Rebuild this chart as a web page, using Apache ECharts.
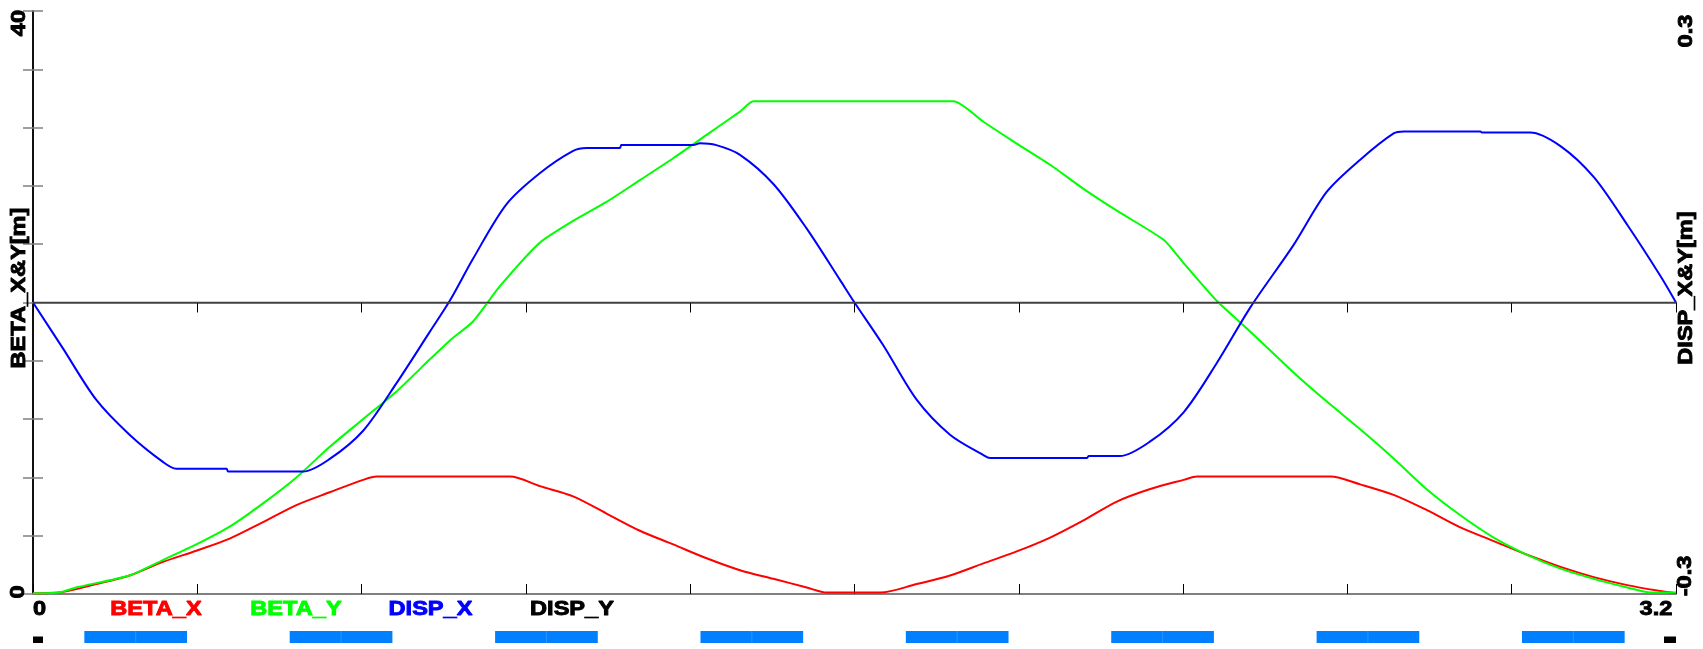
<!DOCTYPE html>
<html><head><meta charset="utf-8">
<script src="https://cdn.jsdelivr.net/npm/echarts@6/dist/echarts.min.js"></script>
<style>html,body{margin:0;padding:0;background:#fff;}#c{width:1703px;height:649px;}</style>
</head><body><div id="c"></div>
<script>
// ---- data ----
const betaXS = [0, 0.05, 0.123, 0.188, 0.253, 0.318, 0.383, 0.448, 0.513, 0.578, 0.643, 0.669, 0.929, 0.987, 1.052, 1.117, 1.182, 1.247, 1.312, 1.377, 1.442, 1.507, 1.546, 1.650, 1.721, 1.786, 1.851, 1.916, 1.981, 2.046, 2.111, 2.176, 2.241, 2.267, 2.527, 2.585, 2.650, 2.715, 2.780, 2.845, 2.910, 2.975, 3.040, 3.105, 3.170, 3.2];
const betaXV = [0.05, 0.1, 0.68, 1.27, 2.2, 2.97, 3.8, 4.93, 6.1, 6.98, 7.83, 8.06, 8.06, 7.4, 6.7, 5.52, 4.34, 3.4, 2.45, 1.63, 1.04, 0.45, 0.1, 0.1, 0.68, 1.27, 2.1, 2.92, 3.87, 5.05, 6.34, 7.2, 7.83, 8.06, 8.06, 7.52, 6.8, 5.75, 4.57, 3.63, 2.69, 1.86, 1.16, 0.61, 0.2, 0.05];

const betaYS = [0, 0.05, 0.084, 0.188, 0.253, 0.318, 0.383, 0.448, 0.513, 0.578, 0.643, 0.708, 0.773, 0.812, 0.857, 0.909, 0.987, 1.052, 1.117, 1.182, 1.247, 1.312, 1.377, 1.403, 1.793, 1.851, 1.916, 1.981, 2.046, 2.111, 2.202, 2.241, 2.306, 2.371, 2.455, 2.520, 2.585, 2.650, 2.715, 2.780, 2.845, 2.910, 2.975, 3.040, 3.105, 3.150, 3.2];
const betaYV = [0.05, 0.1, 0.45, 1.27, 2.33, 3.4, 4.62, 6.22, 8.0, 10.1, 12.0, 13.9, 16.1, 17.4, 18.7, 21.1, 24.1, 25.6, 26.9, 28.4, 29.9, 31.5, 33.1, 33.8, 33.8, 32.4, 30.9, 29.45, 27.8, 26.3, 24.3, 22.7, 20.1, 18.0, 15.2, 13.2, 11.3, 9.3, 7.17, 5.4, 3.87, 2.69, 1.74, 1.04, 0.45, 0.1, 0.1];

const dispXS = [0, 0.058, 0.123, 0.188, 0.253, 0.279, 0.377, 0.380, 0.526, 0.578, 0.643, 0.708, 0.773, 0.812, 0.857, 0.922, 0.987, 1.052, 1.078, 1.143, 1.146, 1.286, 1.299, 1.331, 1.377, 1.442, 1.507, 1.572, 1.600, 1.656, 1.721, 1.786, 1.851, 1.864, 2.053, 2.056, 2.117, 2.176, 2.241, 2.306, 2.371, 2.455, 2.520, 2.585, 2.650, 2.670, 2.819, 2.822, 2.916, 2.975, 3.040, 3.105, 3.170, 3.2];
const dispXV = [0, -0.047, -0.100, -0.136, -0.164, -0.171, -0.171, -0.174, -0.174, -0.161, -0.132, -0.083, -0.030, 0.002, 0.045, 0.101, 0.133, 0.156, 0.159, 0.159, 0.162, 0.162, 0.164, 0.162, 0.152, 0.122, 0.076, 0.023, 0.0, -0.044, -0.100, -0.136, -0.157, -0.160, -0.160, -0.158, -0.158, -0.143, -0.113, -0.062, -0.005, 0.059, 0.114, 0.147, 0.174, 0.176, 0.176, 0.175, 0.175, 0.161, 0.129, 0.080, 0.027, 0];

const dispYS = [0, 3.2];
const dispYV = [0, 0];

const seriesNames = ['BETA_X', 'BETA_Y', 'DISP_X', 'DISP_Y'];
const quadStart = [0.1, 0.5, 0.9, 1.3, 1.7, 2.1, 2.5, 2.9];
const quadEnd   = [0.3, 0.7, 1.1, 1.5, 1.9, 2.3, 2.7, 3.1];
const markerPos = [0, 3.2];

const xTickValues = [0, 3.2];
const xTickLabels = ['0', '3.2'];
const betaTickValues = [0, 40];
const betaTickLabels = ['0', '40'];
const dispTickValues = [-0.3, 0.3];
const dispTickLabels = ['-0.3', '0.3'];
const leftTitle = 'BETA_X&Y[m]';
const rightTitle = 'DISP_X&Y[m]';

// ---- chart ----
const pairs = (s, v) => s.map((x, i) => [x, v[i]]);
const FONT = 'bold 20px "Liberation Sans", Arial, sans-serif';
const SX = 1.18;
const colors = ['#ff0000', '#00ff00', '#0000ff', '#000000'];

const chart = echarts.init(document.getElementById('c'), null, {renderer: 'canvas'});

const lineSeries = (name, data, yIdx, color, w, smooth) => ({
  name, type: 'line', xAxisIndex: 0, yAxisIndex: yIdx, data,
  showSymbol: false, symbol: 'none', smooth: smooth, animation: false,
  lineStyle: {color, width: w}, itemStyle: {color}, z: 3
});

chart.setOption({
  animation: false,
  backgroundColor: '#ffffff',
  grid: [
    {left: 33, top: 11, width: 1643, height: 583},
    {left: 33, top: 631, width: 1643, height: 12}
  ],
  xAxis: [
    {gridIndex: 0, type: 'value', min: 0, max: 3.2, interval: 0.32, position: 'bottom',
     axisLine: {lineStyle: {color: '#808080', width: 2}},
     axisTick: {inside: true, length: 10, lineStyle: {color: '#000', width: 1}},
     axisLabel: {show: false}, splitLine: {show: false}},
    {gridIndex: 0, type: 'value', min: 0, max: 3.2, interval: 0.32, position: 'top',
     axisLine: {lineStyle: {color: '#808080', width: 2}},
     axisTick: {inside: true, length: 10, lineStyle: {color: '#000', width: 1}},
     axisLabel: {show: false}, splitLine: {show: false}},
    {gridIndex: 1, type: 'value', min: 0, max: 3.2, show: false}
  ],
  yAxis: [
    {gridIndex: 0, type: 'value', min: 0, max: 40, interval: 4, position: 'left',
     axisLine: {show: true, lineStyle: {color: '#000', width: 1.5}},
     axisTick: {show: true, inside: true, length: 10, lineStyle: {color: '#808080', width: 1.5}},
     axisLabel: {show: false}, splitLine: {show: false}},
    {gridIndex: 0, type: 'value', min: -0.3, max: 0.3, interval: 0.06, position: 'right',
     axisLine: {show: true, lineStyle: {color: '#000', width: 1.5}},
     axisTick: {show: true, inside: true, length: 10, lineStyle: {color: '#808080', width: 1.5}},
     axisLabel: {show: false}, splitLine: {show: false}},
    {gridIndex: 1, type: 'value', min: 0, max: 1, show: false}
  ],
  series: [
    lineSeries(seriesNames[0], pairs(betaXS, betaXV), 0, colors[0], 2, 0.3),
    lineSeries(seriesNames[1], pairs(betaYS, betaYV), 0, colors[1], 2, 0.2),
    lineSeries(seriesNames[2], pairs(dispXS, dispXV), 1, colors[2], 2, 0.3),
    lineSeries(seriesNames[3], pairs(dispYS, dispYV), 1, '#404040', 1.5, false),
    {
      type: 'custom', xAxisIndex: 2, yAxisIndex: 2, animation: false,
      data: quadStart.map((s, i) => [s, quadEnd[i]]),
      renderItem: (params, api) => {
        const a = api.coord([api.value(0), 1]);
        const b = api.coord([api.value(1), 0]);
        const mid = (a[0] + b[0]) / 2;
        return {type: 'group', children: [
          {type: 'rect', shape: {x: a[0], y: a[1], width: b[0] - a[0], height: b[1] - a[1]},
           style: {fill: '#0080ff'}},
          {type: 'line', shape: {x1: mid, y1: a[1], x2: mid, y2: b[1]},
           style: {stroke: '#2a93ff', lineWidth: 1}}
        ]};
      }
    },
    {
      type: 'custom', xAxisIndex: 2, yAxisIndex: 2, animation: false,
      data: markerPos.map(s => [s]),
      renderItem: (params, api) => {
        const p = api.coord([api.value(0), 0]);
        const w = params.dataIndex === 0 ? 10 : 12;
        const x = params.dataIndex === 0 ? p[0] : p[0] - w;
        return {type: 'rect', shape: {x: x, y: p[1] - 6.5, width: w, height: 6.5},
                style: {fill: '#000'}};
      }
    }
  ]
});

const xp = v => chart.convertToPixel({xAxisIndex: 0}, v);
const yb = v => chart.convertToPixel({yAxisIndex: 0}, v);
const yd = v => chart.convertToPixel({yAxisIndex: 1}, v);

function txt(text, x, y, fill, rotated) {
  return {type: 'text', x: x, y: y, rotation: rotated ? Math.PI / 2 : 0,
          scaleX: SX, scaleY: 1, silent: true, z: 10,
          style: {text: text, fill: fill, stroke: fill, lineWidth: 0.9, font: FONT,
                  align: 'center', verticalAlign: 'middle'}};
}

const labelY = 609;
const g = [];
// x tick labels
g.push(txt(xTickLabels[0], xp(xTickValues[0]) + 6.5, labelY, '#000', false));
g.push(txt(xTickLabels[1], xp(xTickValues[1]) - 20, labelY, '#000', false));
// left tick labels (rotated)
g.push(txt(betaTickLabels[0], 18.5, yb(betaTickValues[0]) - 2, '#000', true));
g.push(txt(betaTickLabels[1], 19, yb(betaTickValues[1]) + 12, '#000', true));
// right tick labels (rotated)
g.push(txt(dispTickLabels[0], 1685.5, yd(dispTickValues[0]) - 18, '#000', true));
g.push(txt(dispTickLabels[1], 1686.5, yd(dispTickValues[1]) + 20, '#000', true));
// axis titles
g.push(txt(leftTitle, 19.5, 288, '#000', true));
g.push(txt(rightTitle, 1686.5, 288, '#000', true));
// legend-like series names
const legendX = [156, 296, 430.5, 572];
seriesNames.forEach((n, i) => g.push(txt(n, legendX[i], labelY, colors[i], false)));

chart.setOption({graphic: g});
</script>
</body></html>
